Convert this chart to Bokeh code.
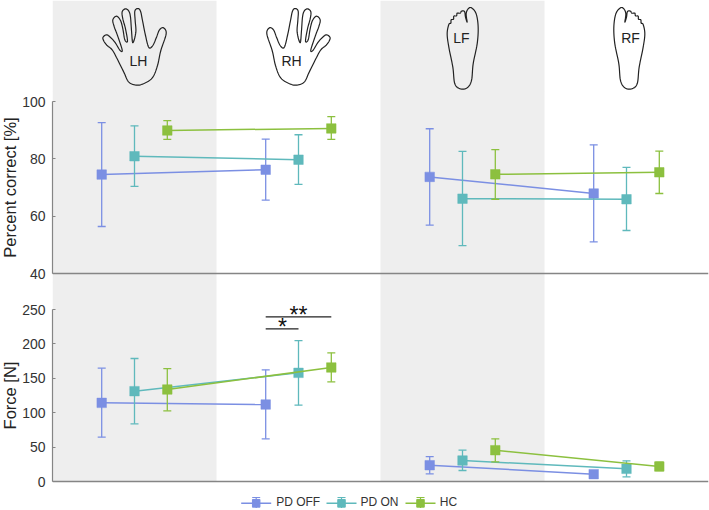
import numpy as np
from bokeh.plotting import figure
from bokeh.layouts import column
from bokeh.models import Span, FixedTicker
from bokeh.core.properties import value
from bokeh.embed import file_html
from bokeh.resources import INLINE

# ---- data ----
limbs = ["LH", "RH", "LF", "RF"]
groups = ["PD OFF", "PD ON", "HC"]
colors = ["#7b8fe3", "#5fb9bc", "#8cc03f"]

pc_mean = [[74.5, 76.2, 73.7, 67.9], [80.9, 79.7, 66.1, 65.9], [89.9, 90.6, 74.6, 75.3]]
pc_hi = [[92.6, 86.9, 90.5, 84.9], [91.5, 88.4, 82.6, 77.0], [93.3, 94.7, 83.2, 82.7]]
pc_lo = [[56.4, 65.6, 56.9, 51.0], [70.4, 71.1, 49.7, 55.0], [86.8, 86.8, 65.9, 67.9]]

f_mean = [[114.3, 111.9, 23.7, 10.7], [131.3, 157.9, 30.5, 18.4], [133.7, 165.7, 45.5, 21.8]]
f_hi = [[164.7, 162.3, 36.3, 15.0], [178.8, 204.9, 45.5, 30.0], [164.2, 187.0, 62.0, 28.0]]
f_lo = [[64.4, 62.0, 11.1, 6.0], [83.8, 110.9, 16.0, 6.8], [102.7, 144.9, 28.6, 16.0]]

sig_levels = [239.3, 221.9]
sig_labels = ["**", "*"]

# outline drawings (reference pixels)
hand_outline = [(160,141),(150,105),(141,60),(135,32),(127,24),(118,32),(119,60),(121,95),(112,127),
                (108,90),(105,50),(100,32),(90,25),(80,34),(82,55),(90,85),(96,122),
                (88,118),(82,85),(75,60),(63,47),(52,58),(56,78),(66,105),(80,148),(74,150),
                (58,125),(42,108),(32,103),(22,113),(32,132),(50,148),(65,175),(85,215),(100,245),(125,254),
                (150,247),(172,230),(186,195),(196,150),(212,100),(204,82),(192,88),(183,110),(172,135)]
foot_outline = [(108,22),(122,40),(128,80),(125,130),(113,190),(108,240),(95,262),(75,265),(58,250),(52,200),
                (40,140),(35,100),(40,72),(46,68),(47,58),(54,56),(55,47),(63,46),(65,38),(74,38),(78,32),(87,33),
                (90,50),(95,65),(92,40),(98,25)]

# ---- layout helpers: reference pixels to data ----
W = 656
H0 = 92
H1 = 192
H2 = 226
xd = lambda px: (px - 52) / 164
yt = lambda py: 100 - (py - 101) * 60 / 172
yb = lambda py: 250 - (py - 309) * 250 / 172
offsets = [-0.2, 0.0, 0.2]
centers = [0.5, 1.5, 2.5, 3.5]
FONT = "Liberation Sans"
TXT = "#333333"
AXC = "#858585"
BAND = "#eeeeee"


def smooth(pts):
    p = np.array(pts, float)
    n = len(p)
    out = []
    for i in range(n):
        p0, p1, p2, p3 = p[(i - 1) % n], p[i], p[(i + 1) % n], p[(i + 2) % n]
        for t in np.linspace(0, 1, 8, endpoint=False):
            out.append(0.5 * (2 * p1 + (p2 - p0) * t + (2 * p0 - 5 * p1 + 4 * p2 - p3) * t ** 2
                              + (3 * p1 - p0 - 3 * p2 + p3) * t ** 3))
    out.append(out[0])
    return np.array(out)


def base_fig(h, y0, y1, **kw):
    p = figure(width=711, height=h, frame_width=W, frame_height=h, x_range=(0, 4), y_range=(y0, y1),
               output_backend="svg", toolbar_location=None, x_axis_location=None,
               min_border_left=54, min_border_right=1, min_border_top=0, min_border_bottom=0,
               background_fill_color=None, border_fill_color=None, outline_line_color=None, **kw)
    p.grid.visible = False
    return p


def make(h, y0, y1, ticks, bounds, base, label):
    p = base_fig(h, y0, y1)
    ax = p.yaxis[0]
    ax.ticker = FixedTicker(ticks=ticks)
    ax.bounds = bounds
    ax.axis_line_color = AXC
    ax.axis_line_width = 1.2
    ax.major_tick_line_color = AXC
    ax.major_tick_in = 3
    ax.major_tick_out = 0
    ax.minor_tick_line_color = None
    ax.major_label_text_font = FONT
    ax.major_label_text_font_size = "14px"
    ax.major_label_text_color = TXT
    ax.major_label_standoff = 7
    ax.axis_label = label
    ax.axis_label_text_font = FONT
    ax.axis_label_text_font_size = "16.5px"
    ax.axis_label_text_font_style = "normal"
    ax.axis_label_text_color = "#222222"
    ax.axis_label_text_line_height = 1.0
    ax.axis_label_standoff = 0
    p.quad(left=[0, 2], right=[1, 3], bottom=[y0, y0] if base == 40 else [base, base], top=[y1, y1],
           fill_color=BAND, line_color=None)
    p.add_layout(Span(location=base, dimension="width", line_color=AXC, line_width=1.4))
    return p


def series(p, mean, hi, lo):
    for g in range(3):
        xs = [c + offsets[g] for c in centers]
        for a, b in ((0, 1), (2, 3)):
            p.line([xs[a], xs[b]], [mean[g][a], mean[g][b]], line_color=colors[g], line_width=1.5)
        p.segment(xs, lo[g], xs, hi[g], line_color=colors[g], line_width=1.3)
        p.scatter(xs, hi[g], marker="dash", size=8, line_color=colors[g], line_width=1.3)
        p.scatter(xs, lo[g], marker="dash", size=8, line_color=colors[g], line_width=1.3)
        p.scatter(xs, mean[g], marker="square", size=9.5, fill_color=colors[g], line_color=colors[g], line_width=0.5)


# ---- limb drawings ----
p0 = base_fig(H0, H0, 0, y_axis_location=None)
p0.quad(left=[0, 2], right=[1, 3], bottom=[H0, H0], top=[0, 0], fill_color=BAND, line_color=None)
hand = smooth(hand_outline) / 3
foot = smooth(foot_outline) / 3
hx = hand[:, 0] + 95
fx = foot[:, 0] + 435
for xs, ys in ((hx, hand[:, 1]), (432 - hx, hand[:, 1]), (fx, foot[:, 1]), (1091 - fx, foot[:, 1])):
    p0.line(xd(xs), ys, line_color="#222222", line_width=1.2)
label_px = [(138, 60), (291, 60), (461, 37), (630, 37)]
p0.text(x=[xd(a) for a, b in label_px], y=[b for a, b in label_px], text=limbs, text_align="center",
        text_baseline="middle", text_font=value(FONT), text_font_size="14px", text_color="#222222")

# ---- top panel ----
top0 = H0 - 1
p1 = make(H1, yt(top0 + H1), yt(top0), [40, 60, 80, 100], (40, 100), 40, "Percent correct [%]")
p1.margin = (-1, 0, 0, 0)
series(p1, pc_mean, pc_hi, pc_lo)

# ---- bottom panel ----
top1 = top0 + H1 - 1
p2 = make(H2, yb(top1 + H2), yb(top1), [0, 50, 100, 150, 200, 250], (0, 250), 0, "Force [N]")
p2.margin = (-1, 0, 0, 0)
series(p2, f_mean, f_hi, f_lo)

sx0 = centers[1] + offsets[0]
p2.segment([sx0, sx0], sig_levels, [centers[1] + offsets[2], centers[1] + offsets[1]], sig_levels,
           line_color="#222222", line_width=1.3)
p2.text(x=[xd(298), xd(282)], y=[yb(314), yb(326)], text=sig_labels, text_align="center", text_baseline="middle",
        text_font=value(FONT), text_font_size="23px", text_color="#111111")

# legend, drawn as in the original: line, marker and error bar
leg_y = yb(502.7)
leg_x = [255.7, 341, 420]
leg_tx = [275.7, 360, 439.3]
for g, name in enumerate(groups):
    cx = leg_x[g]
    p2.line(xd(np.array([cx - 15, cx + 15])), [leg_y, leg_y], line_color=colors[g], line_width=1.5)
    p2.segment([xd(cx)], [yb(497)], [xd(cx)], [yb(507.5)], line_color=colors[g], line_width=1.2)
    p2.scatter([xd(cx), xd(cx)], [yb(497), yb(507.5)], marker="dash", size=8, line_color=colors[g], line_width=1.2)
    p2.scatter([xd(cx)], [leg_y], marker="square", size=7.5, fill_color=colors[g], line_color=colors[g])
p2.text(x=[xd(a) for a in leg_tx], y=[yb(501.5)] * 3, text=groups, text_align="left", text_baseline="middle",
        text_font=value(FONT), text_font_size="12px", text_color="#333333")

page = column(p0, p1, p2, spacing=0, margin=(0, 0, 0, -2))
open("out.html", "w").write(file_html(page, INLINE))
